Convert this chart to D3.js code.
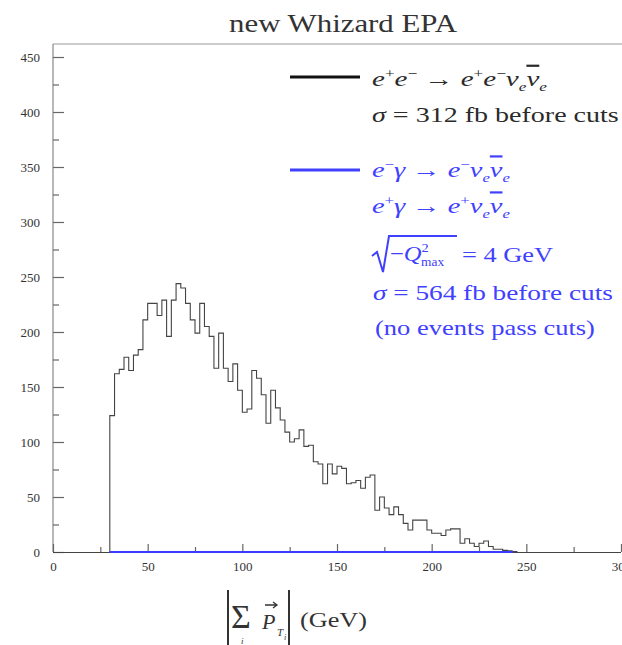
<!DOCTYPE html>
<html><head><meta charset="utf-8">
<script src="https://cdn.jsdelivr.net/npm/d3@7"></script>
<style>body{margin:0;background:#fff} svg{display:block}</style>
</head><body>
<svg id="c" width="622" height="645"></svg>
<script>
// ---- data ----
const binStart = 30, binWidth = 2.5;           // GeV
const counts = [124,162,166,177,165,179,184,211,226,226,215,229,196,229,244,240,226,211,199,226,
  205,196,167,199,167,155,171,147,127,130,165,158,143,117,147,131,120,109,100,103,
  111,96,97,82,80,62,80,71,78,76,62,63,65,58,68,70,38,50,40,34,
  41,34,26,20,29,29,29,20,17,17,15,20,21,21,8,12,8,5,8,10,
  5,2.5,2.5,1.5,1,0.5];
const blueEdges = [30, 243];   // e gamma processes: no events pass cuts
const blueCounts = [0];
const xMajor = [0,50,100,150,200,250,300];
const xMinor = [25,75,125,175,225,275];
const yMajor = [0,50,100,150,200,250,300,350,400,450];
const yMinor = [25,75,125,175,225,275,325,375,425];
const title = "new Whizard EPA";

const serif = '"Liberation Serif","Times New Roman",serif';
const svg = d3.select('#c');
const x = d3.scaleLinear().domain([0,300]).range([53,621]);
const y = d3.scaleLinear().domain([0,450]).range([552,57]);
const frameTop = 44;

// title
svg.append('text').attr('x',229).attr('y',32).text(title)
  .attr('font-family',serif).attr('font-size',26).attr('fill','#333')
  .attr('textLength',228).attr('lengthAdjust','spacingAndGlyphs');

// frame
svg.append('line').attr('x1',53).attr('x2',622).attr('y1',frameTop).attr('y2',frameTop).attr('stroke','#999').attr('stroke-width',1.2);
svg.append('line').attr('x1',53).attr('x2',53).attr('y1',frameTop).attr('y2',552).attr('stroke','#888').attr('stroke-width',1.2);

// axes
function styleAxis(g){
  g.select('.domain').remove();
  g.attr('font-family',serif);
  g.selectAll('.tick line').attr('stroke','#666').attr('stroke-width',1.2);
  g.selectAll('.tick text').attr('font-family',serif).attr('font-size',13).attr('fill','#333');
}
svg.append('g').attr('transform','translate(53,0)')
  .call(d3.axisLeft(y).tickValues(yMajor).tickSizeInner(-11).tickSizeOuter(0).tickPadding(13))
  .call(styleAxis);
svg.append('g').attr('transform','translate(53,0)')
  .call(d3.axisLeft(y).tickValues(yMinor).tickSizeInner(-6).tickSizeOuter(0).tickFormat(''))
  .call(styleAxis);
svg.append('g').attr('transform','translate(0,552)')
  .call(d3.axisBottom(x).tickValues(xMajor).tickSizeInner(-8).tickSizeOuter(0).tickPadding(10))
  .call(styleAxis);
svg.append('g').attr('transform','translate(0,552)')
  .call(d3.axisBottom(x).tickValues(xMinor).tickSizeInner(-5).tickSizeOuter(0).tickFormat(''))
  .call(styleAxis);
svg.append('line').attr('x1',53).attr('x2',621).attr('y1',552.5).attr('y2',552.5).attr('stroke','#444').attr('stroke-width',1.2);

// histogram (black)
const pts = [[binStart,0]];
counts.forEach((c,i)=>pts.push([binStart+i*binWidth,c]));
const xEnd = binStart+counts.length*binWidth;
pts.push([xEnd,counts[counts.length-1]]);
pts.push([xEnd,0]);
const line = d3.line().x(d=>x(d[0])).y(d=>y(d[1])).curve(d3.curveStepAfter);
svg.append('path').attr('d',line(pts)).attr('fill','none').attr('stroke','#444').attr('stroke-width',1.1);

// blue histogram (all zero)
const bpts = [];
blueCounts.forEach((c,i)=>bpts.push([blueEdges[i],c]));
bpts.push([blueEdges[blueEdges.length-1], blueCounts[blueCounts.length-1]]);
svg.append('path').attr('d',line(bpts)).attr('fill','none').attr('stroke','#3b3bff').attr('stroke-width',2);

// ---- legend ----
const BLK = '#2a2a2a', BLU = '#4040ff';
function rich(x0,y0,tokens,color,size){
  const t = svg.append('text').attr('x',x0).attr('y',y0)
    .attr('font-family',serif).attr('font-size',size).attr('fill',color);
  let shift = 0;
  tokens.forEach(tk=>{
    const s = tk.shift||0;
    const ts = t.append('tspan').text(tk.t).attr('dy',s-shift);
    if (tk.dx) ts.attr('dx',tk.dx);
    if (tk.size) ts.attr('font-size',tk.size);
    ts.attr('font-style', tk.it ? 'italic' : 'normal');
    if (tk.over) ts.attr('text-decoration','overline');
    shift = s;
  });
  t.datum(x0);
  return t;
}
function stretch(t,w){
  const x0 = t.datum();
  const L = t.node().getComputedTextLength();
  const s = w/L;
  t.attr('transform',`translate(${x0},0) scale(${s.toFixed(4)},1) translate(${-x0},0)`);
}
const sup = s=>({t:s,shift:-8,size:13});
const sub = s=>({t:s,shift:5,size:13,it:true});
const it = s=>({t:s,it:true});
const up = s=>({t:s});

svg.append('line').attr('x1',290).attr('x2',360).attr('y1',77).attr('y2',77).attr('stroke','#111').attr('stroke-width',3);
stretch(rich(372,86,[it('e'),sup('+'),it('e'),sup('−'),up(' → '),it('e'),sup('+'),it('e'),sup('−'),it('ν'),sub('e'),{t:'ν',it:true,over:true},sub('e')],BLK,22),175);
stretch(rich(372,122,[it('σ'),up(' = 312  fb before cuts')],BLK,22),247);

svg.append('line').attr('x1',290).attr('x2',360).attr('y1',170).attr('y2',170).attr('stroke',BLU).attr('stroke-width',3);
stretch(rich(372,177,[it('e'),sup('−'),it('γ'),up(' → '),it('e'),sup('−'),it('ν'),sub('e'),{t:'ν',it:true,over:true},sub('e')],BLU,22),138);
stretch(rich(372,213,[it('e'),sup('+'),it('γ'),up(' → '),it('e'),sup('+'),it('ν'),sub('e'),{t:'ν',it:true,over:true},sub('e')],BLU,22),138);
// square root sign
svg.append('path').attr('d','M372,256 L377,252 L383,272 L389,236 L457,236')
  .attr('fill','none').attr('stroke',BLU).attr('stroke-width',2);
stretch(rich(390,261,[up('−'),it('Q'),{t:'2',shift:-9,size:13},{t:'max',shift:5,size:12,dx:-7}],BLU,22),62);
stretch(rich(462,262,[up('= 4 GeV')],BLU,22),91);
stretch(rich(373,300,[it('σ'),up(' = 564  fb before cuts')],BLU,22),240);
stretch(rich(375,335,[up('(no events pass cuts)')],BLU,22),220);

// ---- x axis title ----
const AX = '#333';
svg.append('line').attr('x1',228).attr('x2',228).attr('y1',590).attr('y2',645).attr('stroke',AX).attr('stroke-width',2);
svg.append('line').attr('x1',289).attr('x2',289).attr('y1',590).attr('y2',645).attr('stroke',AX).attr('stroke-width',2);
svg.append('text').attr('x',231).attr('y',628).text('Σ').attr('font-family',serif).attr('font-size',34).attr('fill',AX);
svg.append('text').attr('x',241).attr('y',644).text('i').attr('font-family',serif).attr('font-style','italic').attr('font-size',9).attr('fill',AX);
svg.append('text').attr('x',262).attr('y',629).text('P').attr('font-family',serif).attr('font-style','italic').attr('font-size',22).attr('fill',AX);
svg.append('path').attr('d','M265,605 L277,605 M273,602 L277,605 L273,608').attr('fill','none').attr('stroke',AX).attr('stroke-width',1.3);
svg.append('text').attr('x',277).attr('y',636).text('T').attr('font-family',serif).attr('font-style','italic').attr('font-size',11).attr('fill',AX);
svg.append('text').attr('x',284).attr('y',640).text('i').attr('font-family',serif).attr('font-style','italic').attr('font-size',8).attr('fill',AX);
svg.append('text').attr('x',300).attr('y',627).text('(GeV)').attr('font-family',serif).attr('font-size',22).attr('fill',AX)
  .attr('textLength',67).attr('lengthAdjust','spacingAndGlyphs');
</script>
</body></html>
